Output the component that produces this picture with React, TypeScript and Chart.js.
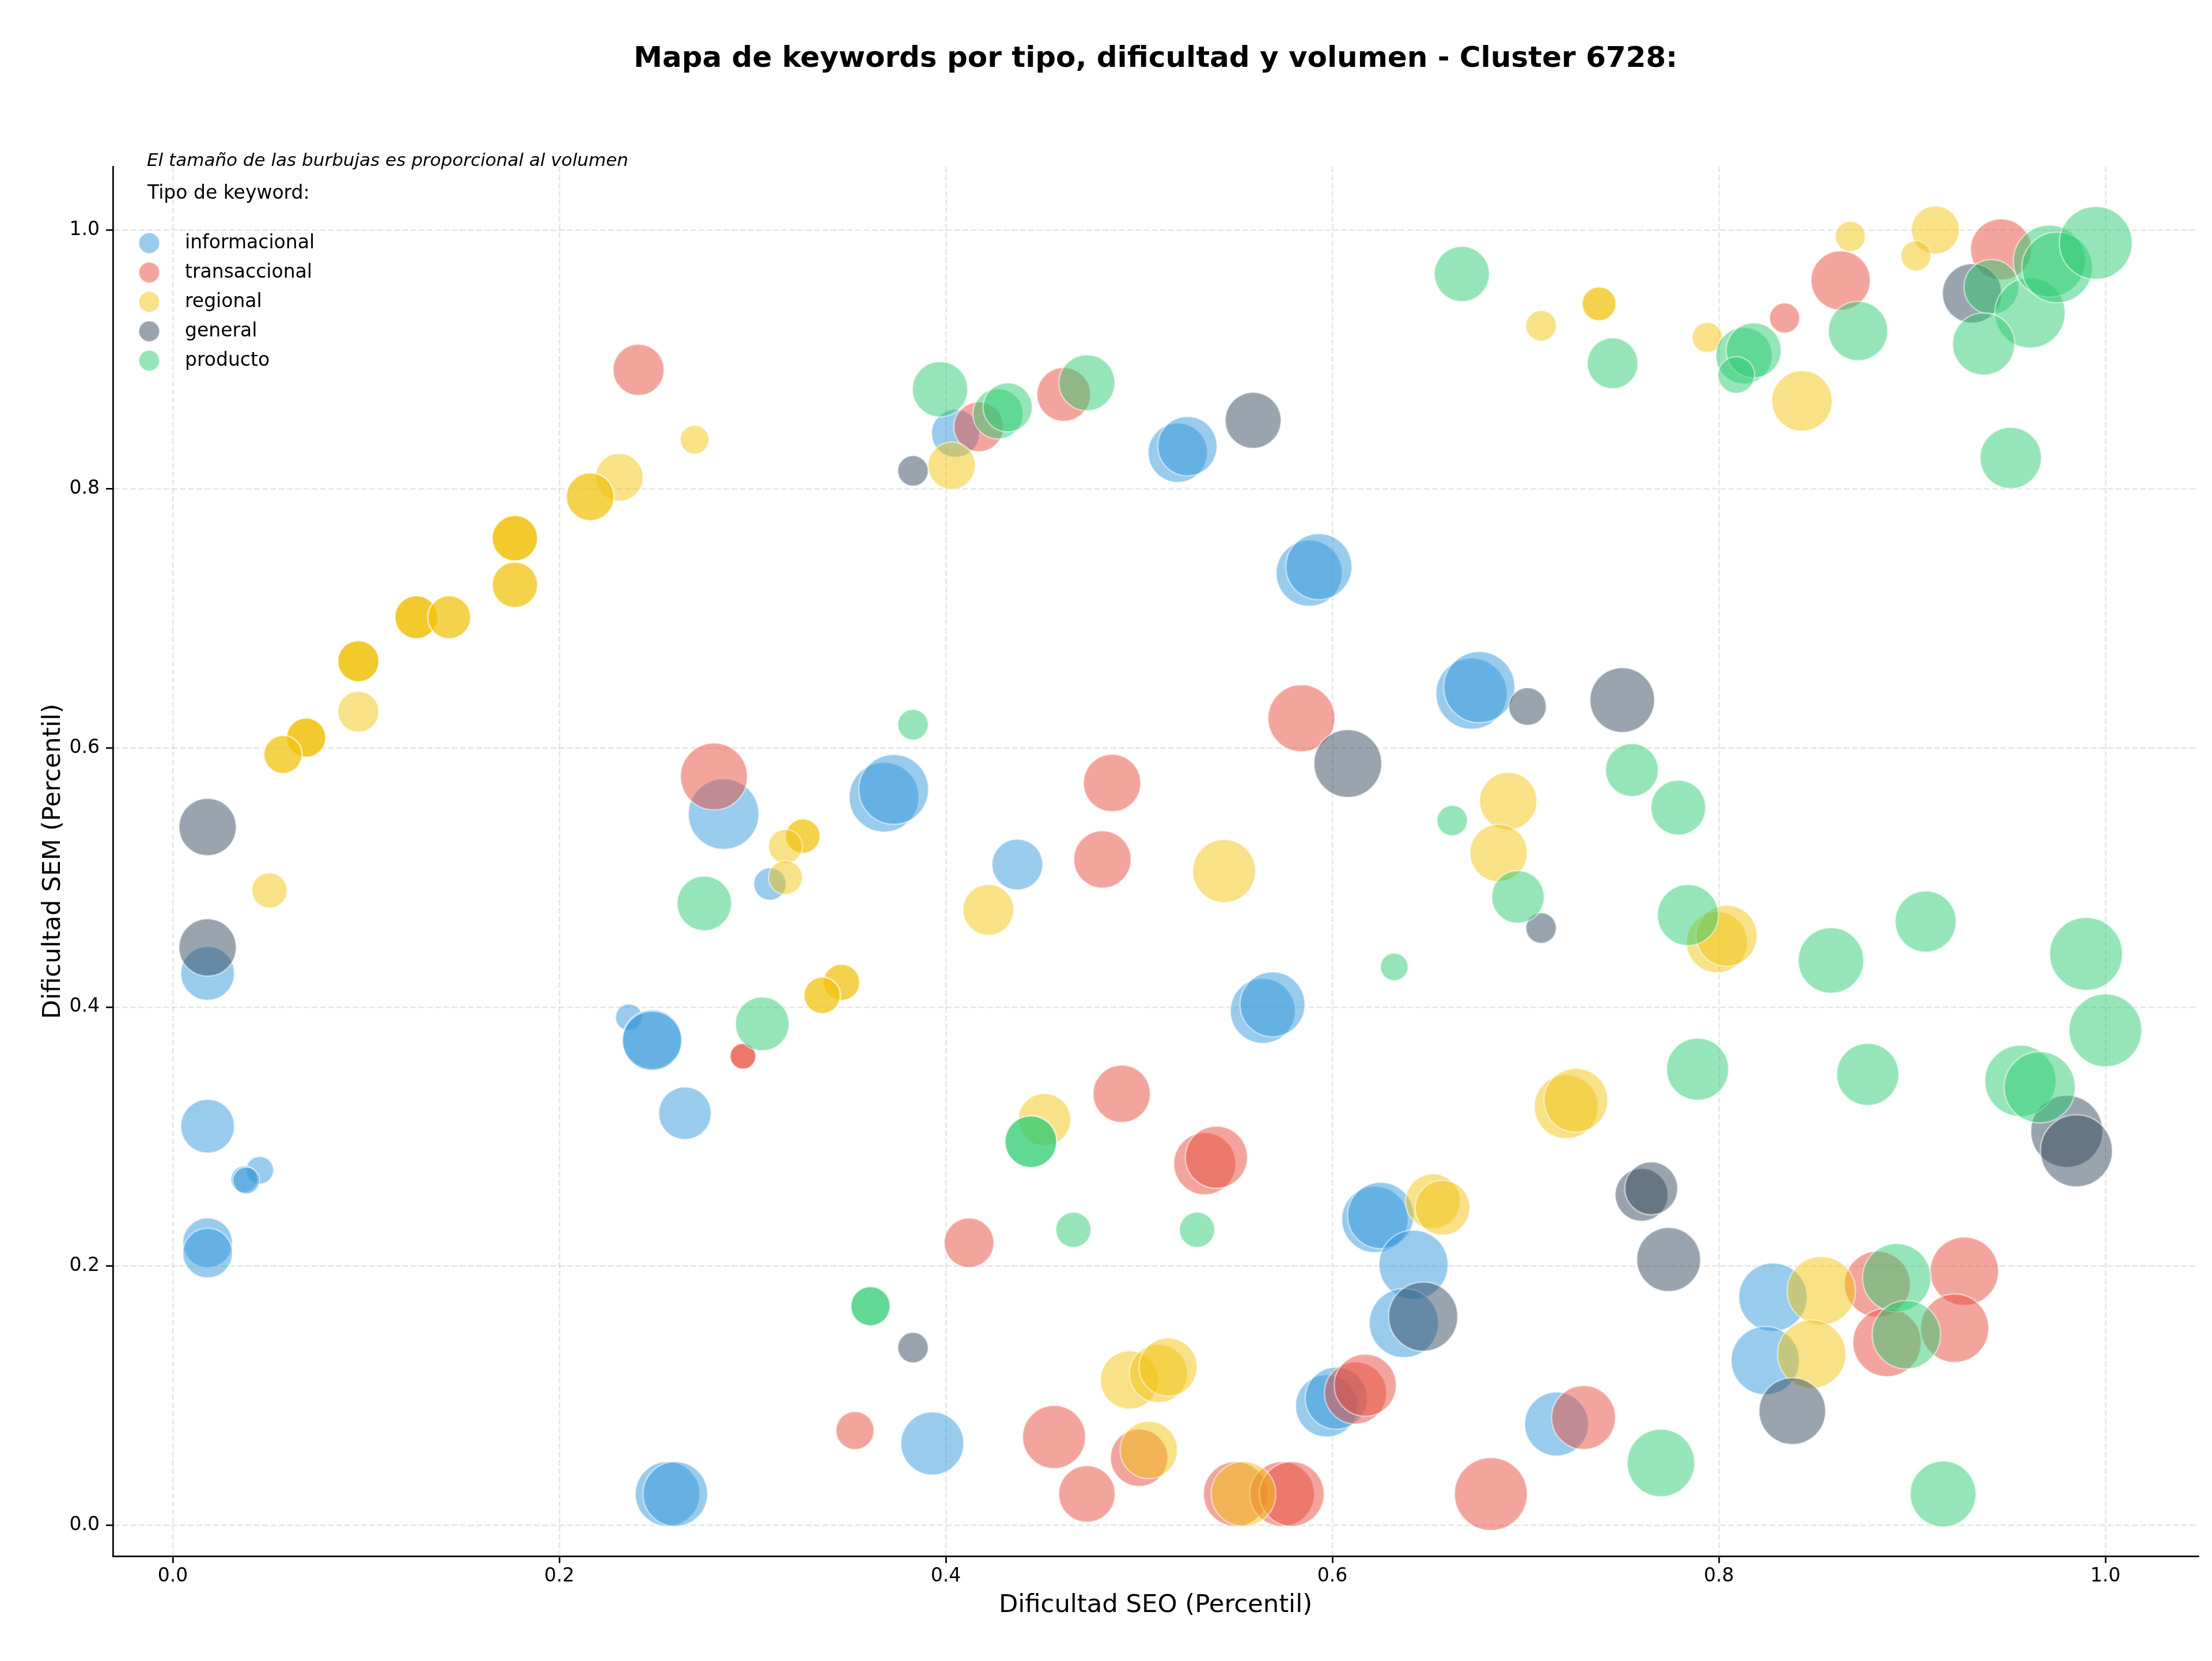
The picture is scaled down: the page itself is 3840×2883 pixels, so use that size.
import React, { useEffect, useRef } from 'react';
import { Chart, registerables } from 'chart.js';

Chart.register(...registerables);

// ---------- Datos ----------
const tipos = ['informacional', 'transaccional', 'regional', 'general', 'producto'];
const colores = ['#3498db', '#e74c3c', '#f1c40f', '#34495e', '#2ecc71'];

// informacional
const infoSeo = [0.018, 0.018, 0.045, 0.037, 0.038, 0.018, 0.018, 0.285, 0.236, 0.248, 0.248, 0.265, 0.309, 0.368, 0.373, 0.437, 0.405, 0.520, 0.525, 0.588, 0.593, 0.672, 0.676, 0.564, 0.569, 0.622, 0.625, 0.642, 0.637, 0.393, 0.256, 0.260, 0.597, 0.602, 0.716, 0.828, 0.824];
const infoSem = [0.426, 0.308, 0.274, 0.267, 0.266, 0.218, 0.210, 0.549, 0.392, 0.375, 0.374, 0.318, 0.495, 0.562, 0.568, 0.510, 0.843, 0.828, 0.833, 0.735, 0.740, 0.642, 0.647, 0.397, 0.402, 0.236, 0.239, 0.201, 0.156, 0.063, 0.024, 0.024, 0.092, 0.098, 0.078, 0.176, 0.127];
const infoVol = [361, 361, 96, 90, 90, 310, 310, 625, 90, 441, 441, 346, 132, 610, 610, 324, 289, 441, 441, 548, 548, 635, 635, 529, 529, 552, 552, 600, 600, 497, 524, 524, 484, 484, 511, 586, 586];

// transaccional
const transSeo = [0.241, 0.417, 0.461, 0.280, 0.295, 0.295, 0.486, 0.481, 0.584, 0.491, 0.534, 0.540, 0.412, 0.353, 0.456, 0.473, 0.500, 0.550, 0.574, 0.579, 0.682, 0.612, 0.617, 0.730, 0.882, 0.927, 0.887, 0.922, 0.834, 0.863, 0.946];
const transSem = [0.892, 0.848, 0.873, 0.578, 0.362, 0.362, 0.573, 0.514, 0.623, 0.333, 0.279, 0.284, 0.218, 0.073, 0.068, 0.024, 0.052, 0.024, 0.024, 0.024, 0.024, 0.102, 0.108, 0.083, 0.186, 0.196, 0.141, 0.152, 0.932, 0.961, 0.985];
const transVol = [328, 310, 361, 562, 83, 83, 412, 412, 562, 412, 484, 484, 310, 182, 497, 400, 412, 524, 524, 524, 666, 484, 484, 511, 543, 586, 586, 586, 114, 441, 467];

// regional
const regSeo = [0.270, 0.231, 0.216, 0.216, 0.177, 0.177, 0.177, 0.177, 0.177, 0.126, 0.126, 0.126, 0.143, 0.143, 0.096, 0.096, 0.096, 0.096, 0.069, 0.069, 0.069, 0.057, 0.057, 0.050, 0.326, 0.326, 0.317, 0.317, 0.346, 0.346, 0.336, 0.336, 0.403, 0.422, 0.544, 0.691, 0.686, 0.451, 0.799, 0.804, 0.721, 0.726, 0.652, 0.657, 0.495, 0.510, 0.515, 0.505, 0.554, 0.853, 0.848, 0.708, 0.738, 0.738, 0.794, 0.843, 0.868, 0.912, 0.902];
const regSem = [0.838, 0.809, 0.794, 0.794, 0.762, 0.762, 0.762, 0.726, 0.726, 0.701, 0.701, 0.701, 0.701, 0.701, 0.667, 0.667, 0.667, 0.628, 0.608, 0.608, 0.608, 0.595, 0.595, 0.490, 0.532, 0.532, 0.524, 0.500, 0.419, 0.419, 0.409, 0.409, 0.818, 0.475, 0.505, 0.559, 0.519, 0.313, 0.450, 0.455, 0.323, 0.328, 0.250, 0.245, 0.112, 0.117, 0.122, 0.058, 0.024, 0.181, 0.132, 0.926, 0.943, 0.943, 0.917, 0.868, 0.995, 1.000, 0.980];
const regVol = [104, 286, 286, 286, 259, 259, 259, 259, 259, 231, 231, 231, 231, 231, 213, 213, 213, 210, 193, 193, 193, 182, 182, 156, 149, 149, 144, 144, 166, 166, 166, 166, 282, 324, 497, 412, 412, 346, 467, 467, 511, 511, 376, 376, 424, 424, 424, 412, 524, 586, 586, 117, 144, 144, 114, 458, 114, 289, 114];

// general
const genSeo = [0.018, 0.018, 0.383, 0.559, 0.608, 0.701, 0.750, 0.708, 0.760, 0.765, 0.774, 0.647, 0.838, 0.383, 0.980, 0.985, 0.931];
const genSem = [0.539, 0.446, 0.814, 0.853, 0.588, 0.632, 0.637, 0.461, 0.255, 0.260, 0.205, 0.161, 0.088, 0.137, 0.304, 0.289, 0.951];
const genVol = [412, 412, 117, 392, 576, 177, 524, 117, 350, 350, 511, 600, 557, 117, 650, 650, 441];

// producto
const prodSeo = [0.397, 0.427, 0.432, 0.473, 0.667, 0.745, 0.813, 0.818, 0.809, 0.872, 0.941, 0.961, 0.937, 0.971, 0.975, 0.995, 0.951, 0.383, 0.275, 0.305, 0.444, 0.444, 0.466, 0.530, 0.361, 0.361, 0.662, 0.696, 0.632, 0.755, 0.779, 0.784, 0.858, 0.907, 0.990, 1.000, 0.789, 0.877, 0.956, 0.966, 0.770, 0.892, 0.897, 0.916];
const prodSem = [0.877, 0.858, 0.863, 0.882, 0.966, 0.897, 0.903, 0.907, 0.888, 0.922, 0.956, 0.936, 0.912, 0.976, 0.971, 0.990, 0.824, 0.618, 0.480, 0.387, 0.296, 0.296, 0.228, 0.228, 0.169, 0.169, 0.544, 0.485, 0.431, 0.583, 0.554, 0.471, 0.436, 0.466, 0.441, 0.382, 0.352, 0.348, 0.343, 0.338, 0.048, 0.191, 0.147, 0.024];
const prodVol = [384, 317, 303, 392, 380, 324, 400, 380, 169, 441, 376, 620, 484, 650, 625, 666, 471, 117, 372, 361, 335, 335, 156, 156, 193, 193, 117, 346, 96, 350, 376, 467, 538, 467, 666, 666, 484, 484, 635, 635, 571, 586, 586, 543];

const ticksX = [0.0, 0.2, 0.4, 0.6, 0.8, 1.0];
const ticksY = [0.0, 0.2, 0.4, 0.6, 0.8, 1.0];

const TITULO = 'Mapa de keywords por tipo, dificultad y volumen - Cluster 6728:';
const NOTA = 'El tamaño de las burbujas es proporcional al volumen';
const LEYENDA_TITULO = 'Tipo de keyword:';
const X_LABEL = 'Dificultad SEO (Percentil)';
const Y_LABEL = 'Dificultad SEM (Percentil)';

const series = [
  { seo: infoSeo, sem: infoSem, vol: infoVol },
  { seo: transSeo, sem: transSem, vol: transVol },
  { seo: regSeo, sem: regSem, vol: regVol },
  { seo: genSeo, sem: genSem, vol: genVol },
  { seo: prodSeo, sem: prodSem, vol: prodVol },
];

const RADIO_K = 2.449;
const FONT = '"DejaVu Sans", "Liberation Sans", sans-serif';

function rgba(hex: string, a: number) {
  const n = parseInt(hex.slice(1), 16);
  return `rgba(${(n >> 16) & 255},${(n >> 8) & 255},${n & 255},${a})`;
}

const textPlugin = {
  id: 'textos',
  afterDraw(chart: any) {
    const ctx = chart.ctx as CanvasRenderingContext2D;
    const a = chart.chartArea;
    const cx = (a.left + a.right) / 2;
    ctx.save();
    ctx.fillStyle = '#000';
    ctx.textBaseline = 'middle';
    ctx.textAlign = 'center';
    ctx.font = `bold 50px ${FONT}`;
    ctx.fillText(TITULO, cx, 103);
    ctx.font = `43.3px ${FONT}`;
    ctx.fillText(X_LABEL, cx, 2787);
    ctx.save();
    ctx.translate(93, (a.top + a.bottom) / 2);
    ctx.rotate(-Math.PI / 2);
    ctx.fillText(Y_LABEL, 0, 0);
    ctx.restore();

    ctx.textAlign = 'left';
    ctx.font = `italic 31px ${FONT}`;
    ctx.fillText(NOTA, 255, 280);
    ctx.font = `33px ${FONT}`;
    ctx.fillText(LEYENDA_TITULO, 256, 336);
    tipos.forEach((t, i) => {
      const y = 422 + i * 51;
      ctx.beginPath();
      ctx.arc(259, y, 18, 0, Math.PI * 2);
      ctx.fillStyle = rgba(colores[i], 0.5);
      ctx.fill();
      ctx.lineWidth = 2;
      ctx.strokeStyle = 'rgba(255,255,255,0.5)';
      ctx.stroke();
      ctx.fillStyle = '#000';
      ctx.fillText(t, 321, y);
    });
    ctx.restore();
  },
};

export default function App() {
  const ref = useRef<HTMLCanvasElement | null>(null);

  useEffect(() => {
    if (!ref.current) return;
    const datasets = series.map((s, i) => ({
      label: tipos[i],
      data: s.seo.map((x, j) => ({ x, y: s.sem[j], r: RADIO_K * Math.sqrt(s.vol[j]) })),
      backgroundColor: rgba(colores[i], 0.5),
      borderColor: 'rgba(255,255,255,0.5)',
      borderWidth: 2.5,
      order: 4 - i,
    }));

    const axisCommon = (vals: number[]) => ({
      type: 'linear' as const,
      afterBuildTicks: (scale: any) => {
        scale.ticks = vals.map((v) => ({ value: v }));
      },
      grid: {
        color: 'rgba(176,176,176,0.3)',
        lineWidth: 2.7,
        drawTicks: true,
        tickLength: 12,
        tickColor: '#000',
        tickWidth: 2.7,
        tickBorderDash: [],
      },
      border: { display: true, color: '#000', width: 2.7, dash: [10, 4.3] },
    });

    const chart = new Chart(ref.current, {
      type: 'bubble',
      data: { datasets },
      options: {
        animation: false,
        responsive: false,
        devicePixelRatio: 1,
        events: [],
        layout: { autoPadding: false, padding: { left: 0, right: 24, top: 289, bottom: 0 } },
        plugins: { legend: { display: false }, tooltip: { enabled: false }, title: { display: false } },
        scales: {
          x: {
            ...axisCommon(ticksX),
            min: -0.031,
            max: 1.048,
            afterFit: (scale: any) => { scale.height = 182; },
            ticks: {
              autoSkip: false,
              maxRotation: 0,
              padding: 4,
              color: '#000',
              font: { family: FONT, size: 33 },
              callback: (v: any) => Number(v).toFixed(1),
            },
          },
          y: {
            ...axisCommon(ticksY),
            min: -0.024,
            max: 1.049,
            afterFit: (scale: any) => { scale.width = 196; },
            ticks: {
              autoSkip: false,
              padding: 11,
              color: '#000',
              font: { family: FONT, size: 33 },
              callback: (v: any) => Number(v).toFixed(1),
            },
          },
        },
      },
      plugins: [textPlugin],
    });
    return () => chart.destroy();
  }, []);

  return (
    <div style={{ position: 'absolute', left: 0, top: 0, width: 3840, height: 2883, background: '#fff' }}>
      <canvas ref={ref} width={3840} height={2883} style={{ display: 'block' }} />
    </div>
  );
}
